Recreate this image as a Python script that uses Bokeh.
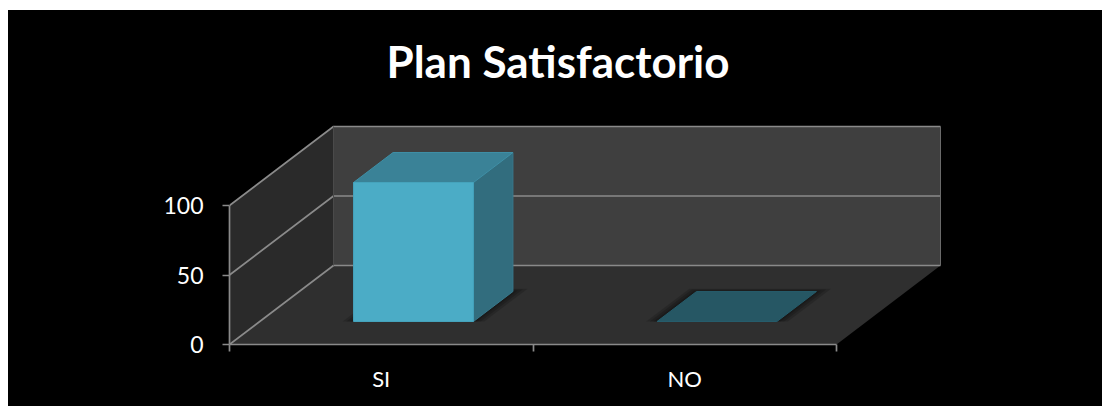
from bokeh.embed import file_html
from bokeh.models import FixedTicker, LinearAxis, Range1d
from bokeh.plotting import figure
from bokeh.resources import INLINE

# Survey result, one bar per answer
categories = ["SI", "NO"]
values = [100, 0]
value_ticks = [0, 50, 100]
title_text = "Plan Satisfactorio"

FONT = "Lato"
GRID = "#8a8a8a"

# Screen scale of the chart box: pixels per category and per value unit
PX_CAT = 303.5
PX_VAL = 1.39
# Oblique projection: the back of the box sits this far right and up
DEPTH_X = 104 / PX_CAT
DEPTH_Y = 79 / PX_VAL
# Slot occupied by each bar, in category units and depth fractions
BAR_LEFT, BAR_RIGHT = 0.309, 0.704
BAR_NEAR, BAR_FAR = 0.291, 0.671

MARGIN_LEFT, MARGIN_TOP = 8, 10
WIDTH, HEIGHT = 1102 - MARGIN_LEFT, 406 - MARGIN_TOP
FRAME_LEFT = 229 - MARGIN_LEFT
FRAME_TOP = 100 - MARGIN_TOP
FRAME_BOTTOM = 62
frame_w = WIDTH - FRAME_LEFT
frame_h = HEIGHT - FRAME_TOP - FRAME_BOTTOM


def proj(x, v, z):
    """Project a (category, value, depth) point onto the drawing plane."""
    return x + z * DEPTH_X, v + z * DEPTH_Y


def poly(points):
    pts = [proj(*pt) for pt in points]
    return [a for a, _ in pts], [b for _, b in pts]


p = figure(
    width=WIDTH, height=HEIGHT, output_backend="svg", toolbar_location=None,
    x_range=Range1d(0, frame_w / PX_CAT), y_range=Range1d(0, frame_h / PX_VAL),
    x_axis_type=None, y_axis_type=None,
    background_fill_color="black", border_fill_color="black",
    min_border_left=FRAME_LEFT, min_border_right=0,
    min_border_top=FRAME_TOP, min_border_bottom=FRAME_BOTTOM,
    outline_line_color=None, margin=(MARGIN_TOP, 0, 0, MARGIN_LEFT),
    title=title_text,
)
# Black behind the canvas keeps the panel seams from showing through
p.styles = {"background-color": "black"}
p.grid.visible = False
p.title.text_font = FONT
p.title.text_font_style = "bold"
p.title.text_font_size = "44px"
p.title.text_color = "white"
p.title.align = "left"
p.title.offset = 157
p.title.standoff = 27

n = len(categories)
top = max(value_ticks)

# Box walls
xs, ys = poly([(0, 0, 1), (n, 0, 1), (n, top, 1), (0, top, 1)])
p.patch(xs, ys, fill_color="#3f3f3f", line_color=None)
xs, ys = poly([(0, 0, 0), (0, 0, 1), (0, top, 1), (0, top, 0)])
p.patch(xs, ys, fill_color="#2a2a2a", line_color=None)
xs, ys = poly([(0, 0, 0), (n, 0, 0), (n, 0, 1), (0, 0, 1)])
p.patch(xs, ys, fill_color="#2f2f2f", line_color=None)

# Grid lines run up the side wall and across the back wall
for tick in value_ticks:
    xs, ys = poly([(0, tick, 0), (0, tick, 1), (n, tick, 1)])
    p.line(xs, ys, line_color=GRID, line_width=1.7)
xs, ys = poly([(0, 0, 1), (0, top, 1)])
p.line(xs, ys, line_color="#4a4a4a", line_width=1)
xs, ys = poly([(n, 0, 1), (n, top, 1)])
p.line(xs, ys, line_color="#6a6a6a", line_width=1)

# Bars
for i, val in enumerate(values):
    x0, x1 = i + BAR_LEFT, i + BAR_RIGHT
    z0, z1 = BAR_NEAR, BAR_FAR
    # soft shadow on the floor, built up from widening translucent layers
    for grow in (0.036, 0.024, 0.012):
        xs, ys = poly([(x0 - grow, 0, z0), (x1 + grow, 0, z0),
                       (x1 + grow, 0, z1 + grow), (x0 - grow, 0, z1 + grow)])
        p.patch(xs, ys, fill_color="black", fill_alpha=0.16, line_color=None)
    if val > 0:
        xs, ys = poly([(x1, 0, z0), (x1, 0, z1), (x1, val, z1), (x1, val, z0)])
        p.patch(xs, ys, fill_color="#326d7e", line_color="#38788b", line_width=1)
        xs, ys = poly([(x0, val, z0), (x1, val, z0), (x1, val, z1), (x0, val, z1)])
        p.patch(xs, ys, fill_color="#3a8297", line_color="#3f8fa6", line_width=1)
        xs, ys = poly([(x0, 0, z0), (x1, 0, z0), (x1, val, z0), (x0, val, z0)])
        p.patch(xs, ys, fill_color="#4bacc6", line_color="#45a3bc", line_width=1)
    else:
        xs, ys = poly([(x0, 0, z0), (x1, 0, z0), (x1, 0, z1), (x0, 0, z1)])
        p.patch(xs, ys, fill_color="#265764", line_color="#265c6b", line_width=1)

# Axes
y_axis = LinearAxis(
    ticker=FixedTicker(ticks=value_ticks), bounds=(0, top),
    axis_line_color=GRID, axis_line_width=1.7,
    major_tick_line_color=GRID, major_tick_line_width=1.7,
    major_tick_out=7, major_tick_in=0, minor_tick_line_color=None,
    major_label_text_color="white", major_label_text_font=FONT,
    major_label_text_font_size="23px", major_label_standoff=19,
)
p.add_layout(y_axis, "left")

x_axis = LinearAxis(
    ticker=FixedTicker(ticks=[i + 0.5 for i in range(n)],
                       minor_ticks=list(range(n + 1))),
    bounds=(0, n),
    major_label_overrides={i + 0.5: c for i, c in enumerate(categories)},
    axis_line_color=GRID, axis_line_width=1.7,
    major_tick_line_color=None, major_tick_out=0, major_tick_in=0,
    minor_tick_line_color=GRID, minor_tick_line_width=1.7,
    minor_tick_out=7, minor_tick_in=0,
    major_label_text_color="white", major_label_text_font=FONT,
    major_label_text_font_size="22px", major_label_standoff=13,
)
p.add_layout(x_axis, "below")

open("out.html", "w").write(file_html(p, INLINE))
